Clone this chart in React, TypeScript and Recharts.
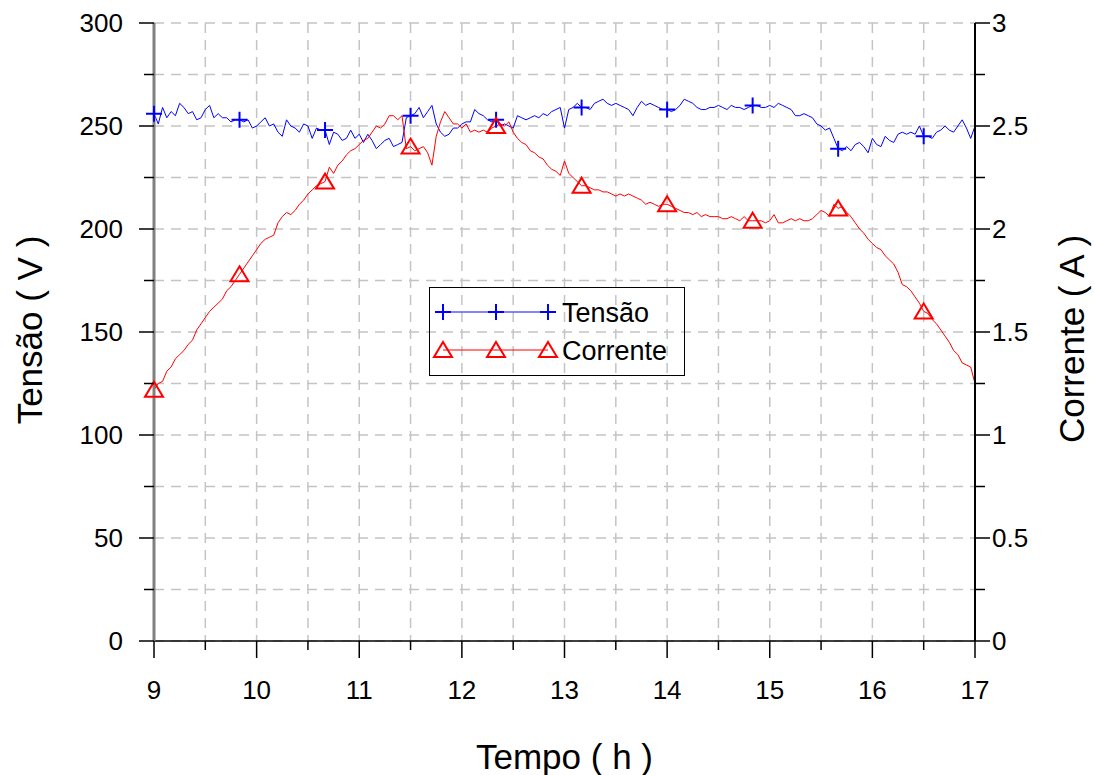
import { LineChart, Line, XAxis, YAxis, CartesianGrid } from 'recharts';

const FONT = '"Liberation Sans", Arial, sans-serif';

// one sample every 2.5 min, from 9 h to 17 h
const START_HOUR = 9;
const STEP_HOURS = 2.5 / 60;
const MARKER_EVERY = 20;

// Tensão (V)
const TENSAO = [
  256, 251, 259, 254, 257, 255, 261, 259, 256, 257,
  253, 254, 258, 260, 254, 256, 254, 254, 252, 253,
  253, 252, 253, 249, 250, 252, 254, 250, 251, 247,
  245, 253, 250, 249, 247, 251, 250, 244, 249, 248,
  248, 241, 247, 246, 243, 244, 248, 244, 246, 242,
  246, 243, 239, 241, 243, 244, 240, 241, 242, 254,
  255, 256, 259, 254, 257, 260, 251, 247, 245, 246,
  249, 249, 251, 252, 252, 258, 256, 255, 253, 252,
  253, 250, 251, 250, 249, 255, 254, 253, 254, 255,
  254, 256, 255, 257, 258, 259, 249, 258, 259, 261,
  259, 259, 258, 261, 262, 263, 261, 260, 261, 260,
  259, 258, 255, 259, 262, 260, 261, 260, 259, 258,
  258, 257, 258, 260, 263, 262, 261, 259, 258, 258,
  259, 259, 260, 259, 258, 260, 259, 259, 258, 259,
  260, 260, 259, 259, 260, 259, 261, 260, 259, 258,
  255, 255, 256, 255, 254, 251, 250, 248, 249, 244,
  239, 238, 240, 238, 241, 242, 240, 237, 244, 241,
  240, 245, 243, 242, 246, 247, 246, 247, 246, 250,
  245, 245, 244, 247, 248, 250, 248, 247, 250, 253,
  249, 244, 250,
];

// Corrente (A)
const CORRENTE = [
  1.22, 1.25, 1.26, 1.31, 1.33, 1.37, 1.39, 1.41, 1.44, 1.46,
  1.51, 1.54, 1.57, 1.6, 1.62, 1.64, 1.66, 1.7, 1.72, 1.75,
  1.78, 1.81, 1.84, 1.87, 1.9, 1.93, 1.95, 1.96, 1.97, 2.03,
  2.06, 2.08, 2.07, 2.09, 2.12, 2.14, 2.17, 2.19, 2.21, 2.22,
  2.23, 2.3, 2.27, 2.31, 2.33, 2.36, 2.38, 2.39, 2.41, 2.43,
  2.44, 2.47, 2.5, 2.49, 2.51, 2.55, 2.55, 2.53, 2.55, 2.39,
  2.4, 2.38, 2.39, 2.4, 2.37, 2.31, 2.45, 2.52, 2.57, 2.54,
  2.51, 2.51, 2.49, 2.51, 2.47, 2.48, 2.47, 2.48, 2.47, 2.49,
  2.5, 2.51, 2.5, 2.52, 2.47, 2.44, 2.42, 2.41, 2.38, 2.37,
  2.35, 2.34, 2.31, 2.29, 2.28, 2.26, 2.33, 2.27, 2.25, 2.23,
  2.21, 2.21, 2.2, 2.19, 2.19, 2.18, 2.18, 2.17, 2.16, 2.17,
  2.16, 2.17, 2.16, 2.15, 2.14, 2.12, 2.13, 2.12, 2.11, 2.12,
  2.12, 2.11, 2.1, 2.09, 2.08, 2.08, 2.07, 2.08, 2.06, 2.07,
  2.06, 2.06, 2.06, 2.05, 2.05, 2.06, 2.05, 2.04, 2.06, 2.04,
  2.04, 2.04, 2.04, 2.03, 2.04, 2.07, 2.03, 2.03, 2.04, 2.05,
  2.04, 2.05, 2.04, 2.04, 2.05, 2.07, 2.09, 2.08, 2.06, 2.12,
  2.1, 2.11, 2.08, 2.06, 2.03, 2.0, 1.98, 1.95, 1.93, 1.91,
  1.9, 1.87, 1.85, 1.83, 1.79, 1.73, 1.72, 1.7, 1.67, 1.64,
  1.6, 1.59, 1.56, 1.54, 1.51, 1.48, 1.45, 1.41, 1.39, 1.35,
  1.34, 1.33, 1.25,
];

const X_TICKS = [9, 9.5, 10, 10.5, 11, 11.5, 12, 12.5, 13, 13.5, 14, 14.5, 15, 15.5, 16, 16.5, 17];
const V_TICKS = [0, 25, 50, 75, 100, 125, 150, 175, 200, 225, 250, 275, 300];
const A_TICKS = [0, 0.25, 0.5, 0.75, 1, 1.25, 1.5, 1.75, 2, 2.25, 2.5, 2.75, 3];

const data = TENSAO.map((v, i) => ({
  t: START_HOUR + i * STEP_HOURS,
  v,
  a: CORRENTE[i],
}));

const BLUE = '#0000ff';
const RED = '#ff0000';

function XTick({ x, y, payload }: any) {
  const major = Number.isInteger(payload.value);
  return (
    <g>
      <line x1={x} x2={x} y1={y} y2={y + (major ? 17 : 9)} stroke="#000" strokeWidth={1.5} />
      {major && (
        <text x={x} y={y + 58} textAnchor="middle" fontSize={26} fontFamily={FONT} fill="#000">
          {payload.value}
        </text>
      )}
    </g>
  );
}

function LeftTick({ x, y, payload }: any) {
  const major = payload.value % 50 === 0;
  return (
    <g>
      <line x1={x} x2={x - (major ? 15 : 10)} y1={y} y2={y} stroke="#000" strokeWidth={1.5} />
      {major && (
        <text x={x - 31} y={y + 9} textAnchor="end" fontSize={26} fontFamily={FONT} fill="#000">
          {payload.value}
        </text>
      )}
    </g>
  );
}

function RightTick({ x, y, payload }: any) {
  const major = Math.abs(payload.value * 2 - Math.round(payload.value * 2)) < 1e-6;
  return (
    <g>
      <line x1={x} x2={x + (major ? 15 : 10)} y1={y} y2={y} stroke="#000" strokeWidth={1.5} />
      {major && (
        <text x={x + 17} y={y + 9} textAnchor="start" fontSize={26} fontFamily={FONT} fill="#000">
          {payload.value}
        </text>
      )}
    </g>
  );
}

function plusMark(cx: number, cy: number, key?: string) {
  return (
    <path
      key={key}
      d={`M${cx - 8},${cy}H${cx + 8}M${cx},${cy - 8}V${cy + 8}`}
      stroke={BLUE}
      strokeWidth={2}
      fill="none"
    />
  );
}

function triMark(cx: number, cy: number, key?: string) {
  return (
    <path
      key={key}
      d={`M${cx},${cy - 8}L${cx + 9},${cy + 7}L${cx - 9},${cy + 7}Z`}
      stroke={RED}
      strokeWidth={2}
      fill="none"
    />
  );
}

const plusDot = (p: any) =>
  p.index % MARKER_EVERY === 0 ? plusMark(p.cx, p.cy, `p${p.index}`) : <g key={`p${p.index}`} />;

const triDot = (p: any) =>
  p.index % MARKER_EVERY === 0 ? triMark(p.cx, p.cy, `t${p.index}`) : <g key={`t${p.index}`} />;

const titleStyle = { position: 'absolute' as const, fontSize: 35, color: '#000', textAlign: 'center' as const };

export default function App() {
  return (
    <div style={{ position: 'absolute', left: 0, top: 0, width: 1094, height: 775, fontFamily: FONT, background: '#fff' }}>
      <LineChart width={1094} height={775} data={data} margin={{ top: 23, right: 59, bottom: 84, left: 94 }}>
        <CartesianGrid yAxisId="v" stroke="#c4c4c4" strokeWidth={1.5} strokeDasharray="10 7" />
        <XAxis
          dataKey="t"
          type="number"
          domain={[9, 17]}
          ticks={X_TICKS}
          interval={0}
          height={50}
          tickSize={0}
          tickMargin={0}
          tickLine={false}
          tick={<XTick />}
          axisLine={{ stroke: '#000', strokeWidth: 1.5 }}
        />
        <YAxis
          yAxisId="v"
          domain={[0, 300]}
          ticks={V_TICKS}
          interval={0}
          width={60}
          tickSize={0}
          tickMargin={0}
          tickLine={false}
          tick={<LeftTick />}
          axisLine={{ stroke: '#808080', strokeWidth: 3 }}
        />
        <YAxis
          yAxisId="a"
          orientation="right"
          domain={[0, 3]}
          ticks={A_TICKS}
          interval={0}
          width={60}
          tickSize={0}
          tickMargin={0}
          tickLine={false}
          tick={<RightTick />}
          axisLine={{ stroke: '#000', strokeWidth: 2 }}
        />
        <Line
          yAxisId="v"
          dataKey="v"
          type="linear"
          stroke={BLUE}
          strokeWidth={1}
          dot={plusDot}
          activeDot={false}
          isAnimationActive={false}
        />
        <Line
          yAxisId="a"
          dataKey="a"
          type="linear"
          stroke={RED}
          strokeWidth={1}
          dot={triDot}
          activeDot={false}
          isAnimationActive={false}
        />
      </LineChart>

      {/* legenda */}
      <div style={{ position: 'absolute', left: 429, top: 287, width: 256, height: 89, border: '1px solid #000', boxSizing: 'border-box' }}>
        <svg width={256} height={89} style={{ position: 'absolute', left: -1, top: -1 }}>
          <line x1={14} x2={119} y1={25} y2={25} stroke="#5a5aff" strokeWidth={1.5} />
          {plusMark(14, 25)}
          {plusMark(67, 25)}
          {plusMark(119, 25)}
          <text x={133} y={35} fontSize={27} fontFamily={FONT} fill="#000">Tensão</text>
          <line x1={14} x2={119} y1={63} y2={63} stroke={RED} strokeWidth={1} />
          {triMark(14, 63)}
          {triMark(67, 63)}
          {triMark(119, 63)}
          <text x={133} y={73} fontSize={27} fontFamily={FONT} fill="#000">Corrente</text>
        </svg>
      </div>

      {/* títulos dos eixos */}
      <div style={{ ...titleStyle, left: 154, width: 821, top: 738, lineHeight: '38px' }}>
        Tempo ( h )
      </div>
      <div style={{ ...titleStyle, left: 30 - 150, top: 330 - 20, width: 300, height: 40, lineHeight: '40px', transform: 'rotate(-90deg)' }}>
        Tensão ( V )
      </div>
      <div style={{ ...titleStyle, left: 1072 - 150, top: 339 - 20, width: 300, height: 40, lineHeight: '40px', transform: 'rotate(-90deg)' }}>
        Corrente ( A )
      </div>
    </div>
  );
}
